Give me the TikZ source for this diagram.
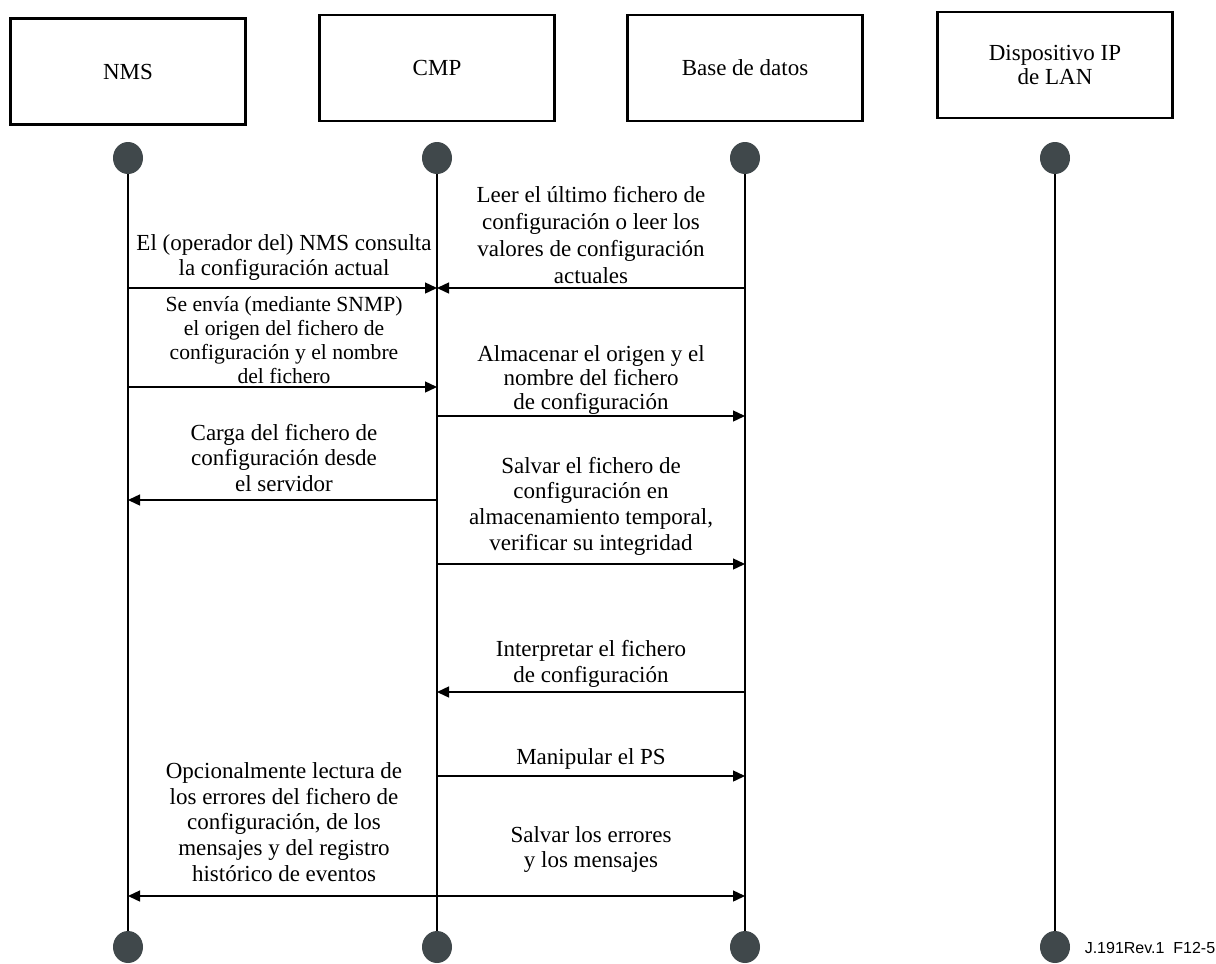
\documentclass[tikz,border=0pt]{standalone}
\usepackage{fontspec}
\setmainfont{Liberation Serif}
\setsansfont{Liberation Sans}
\usetikzlibrary{arrows.meta, positioning, shapes.geometric}

\definecolor{dotgray}{RGB}{64,72,75}

\begin{document}
\begin{tikzpicture}[x=0.5pt, y=-0.5pt,
      actor/.style={draw, line width=1.1pt, minimum width=117.5pt, minimum height=53pt,
                    align=center, inner sep=0pt, font=\fontsize{11.5}{12}\selectfont},
      dot/.style={ellipse, fill=dotgray, minimum width=15pt, minimum height=16pt, inner sep=0pt},
      life/.style={line width=0.7pt},
      msg/.style={line width=0.7pt, -{Triangle[length=6pt, width=5.5pt]}},
      both/.style={line width=0.7pt, {Triangle[length=6pt, width=5.5pt]}-{Triangle[length=6pt, width=5.5pt]}},
      lbl/.style={align=center, inner sep=0pt, font=\fontsize{11.5}{12.8}\selectfont},
      tag/.style={inner sep=0pt, font=\sffamily\fontsize{8}{9}\selectfont}]

    \useasboundingbox (0,0) rectangle (1216,964);

    % ===== Heads =====
    \node[actor] (nms) at (128,71.5) {NMS};
    \node[actor] (cmp) at (437,68)   {CMP};
    \node[actor] (bd)  at (745,68)   {Base de datos};
    \node[actor] (dip) at (1055,65)  {Dispositivo IP\\de LAN};

    % ===== Lifelines =====
    \foreach \n/\x in {nms/128, cmp/437, bd/745, dip/1055} {
        \node[dot] (\n-t) at (\x,158) {};
        \node[dot] (\n-b) at (\x,947) {};
        \draw[life] (\n-t) -- (\n-b);
    }

    % ===== Message rows =====
    \foreach \r/\y in {1/288, 2/387, 3/416, 4/500, 5/564, 6/692, 7/776, 8/896}
        \coordinate (row\r) at (0,\y);

    \draw[msg]  (nms-t |- row1) -- (cmp-t |- row1);
    \draw[msg]  (bd-t |- row1)  -- (cmp-t |- row1);
    \draw[msg]  (nms-t |- row2) -- (cmp-t |- row2);
    \draw[msg]  (cmp-t |- row3) -- (bd-t |- row3);
    \draw[msg]  (cmp-t |- row4) -- (nms-t |- row4);
    \draw[msg]  (cmp-t |- row5) -- (bd-t |- row5);
    \draw[msg]  (bd-t |- row6)  -- (cmp-t |- row6);
    \draw[msg]  (cmp-t |- row7) -- (bd-t |- row7);
    \draw[both] (nms-t |- row8) -- (bd-t |- row8);

    % ===== Labels, NMS -- CMP =====
    \node[lbl] (consulta) at (284,257.5) {El (operador del) NMS consulta\\la configuración actual};
    \node[lbl, font=\fontsize{10.8}{12}\selectfont] (envio) at (284,340.5)
        {Se envía (mediante SNMP)\\el origen del fichero de\\configuración y el nombre\\del fichero};
    \node[lbl] (carga) at (284,458) {Carga del fichero de\\configuración desde\\el servidor};
    \node[lbl] (errores) at (284,822) {Opcionalmente lectura de\\los errores del fichero de\\configuración, de los\\mensajes y del registro\\histórico de eventos};

    % ===== Labels, CMP -- Base de datos =====
    \node[lbl, font=\fontsize{11.5}{13.5}\selectfont] (leer) at (591,235.5)
        {Leer el último fichero de\\configuración o leer los\\valores de configuración\\actuales};
    \node[lbl, font=\fontsize{11.5}{12}\selectfont] (almacenar) at (591,379.5)
        {Almacenar el origen y el\\nombre del fichero\\de configuración};
    \node[lbl] (salvar) at (591,506) {Salvar el fichero de\\configuración en\\almacenamiento temporal,\\verificar su integridad};
    \node[lbl] (interpretar) at (591,664) {Interpretar el fichero\\de configuración};
    \node[lbl] (manipular) at (591,759) {Manipular el PS};
    \node[lbl] (guardar) at (591,849.5) {Salvar los errores\\y los mensajes};

    \node[tag] (fig) at (1150,948) {J.191Rev.1\ \ F12-5};

\end{tikzpicture}
\end{document}
